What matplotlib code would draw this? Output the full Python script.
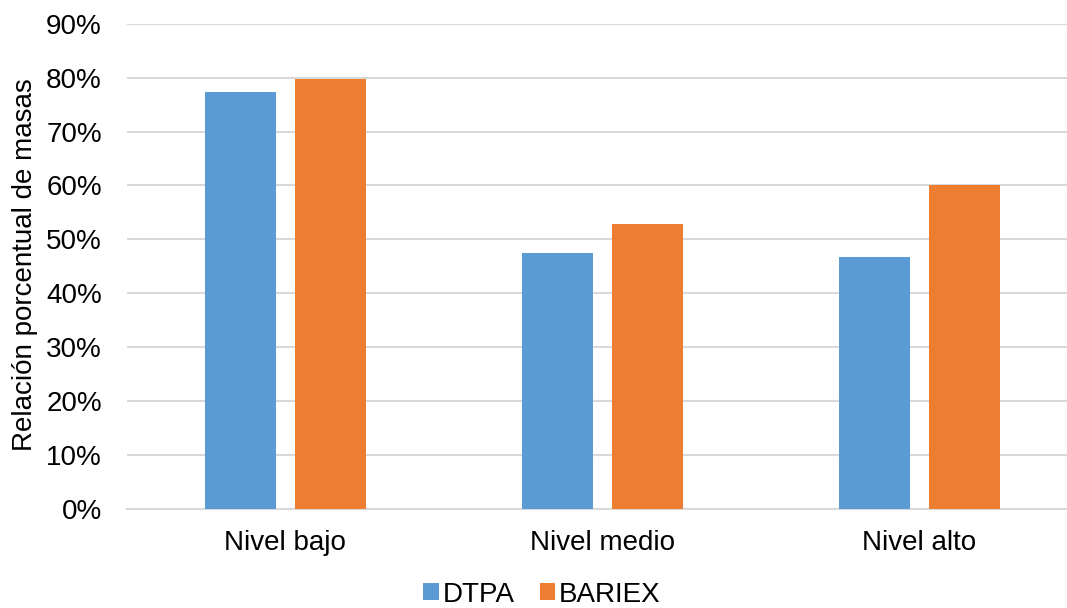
import numpy as np
import matplotlib.pyplot as plt
from matplotlib.ticker import PercentFormatter

plt.rcParams['font.family'] = ['Liberation Sans', 'DejaVu Sans']

niveles = ['Nivel bajo', 'Nivel medio', 'Nivel alto']
dtpa = [0.774, 0.475, 0.467]
bariex = [0.797, 0.529, 0.601]

fig = plt.figure(figsize=(10.67, 6.08), dpi=100)
ax = fig.add_axes([0.119, 0.163, 0.891, 0.798])

x = np.arange(len(niveles))
w = 0.224
ax.bar(x - 0.142, dtpa, w, color='#5B9BD5', label='DTPA', zorder=3)
ax.bar(x + 0.142, bariex, w, color='#ED7D31', label='BARIEX', zorder=3)

ax.set_xlim(-0.5, 2.5)
ax.set_ylim(0, 0.9)
ax.set_yticks(np.arange(0, 0.91, 0.1))
ax.yaxis.set_major_formatter(PercentFormatter(1.0, decimals=0))
ax.set_xticks(x)
ax.set_xticklabels(niveles)
ax.tick_params(axis='both', length=0, labelsize=20, colors='black')
ax.tick_params(axis='x', pad=15)
ax.tick_params(axis='y', pad=18)
ax.grid(axis='y', color='#D9D9D9', linewidth=1.5, zorder=0)
for s in ['top', 'right', 'left']:
    ax.spines[s].set_visible(False)
ax.spines['bottom'].set_color('#D9D9D9')
ax.spines['bottom'].set_linewidth(1.5)

ax.set_ylabel('Relación porcentual de masas', fontsize=20)
ax.yaxis.set_label_coords(-0.094, 0.503)

fig.legend(loc='center', bbox_to_anchor=(0.508, 0.022), ncol=2,
           frameon=False, fontsize=20, handlelength=0.55, handleheight=0.55,
           handletextpad=0.15, columnspacing=0.9)

fig.savefig('out.png', dpi=100)
